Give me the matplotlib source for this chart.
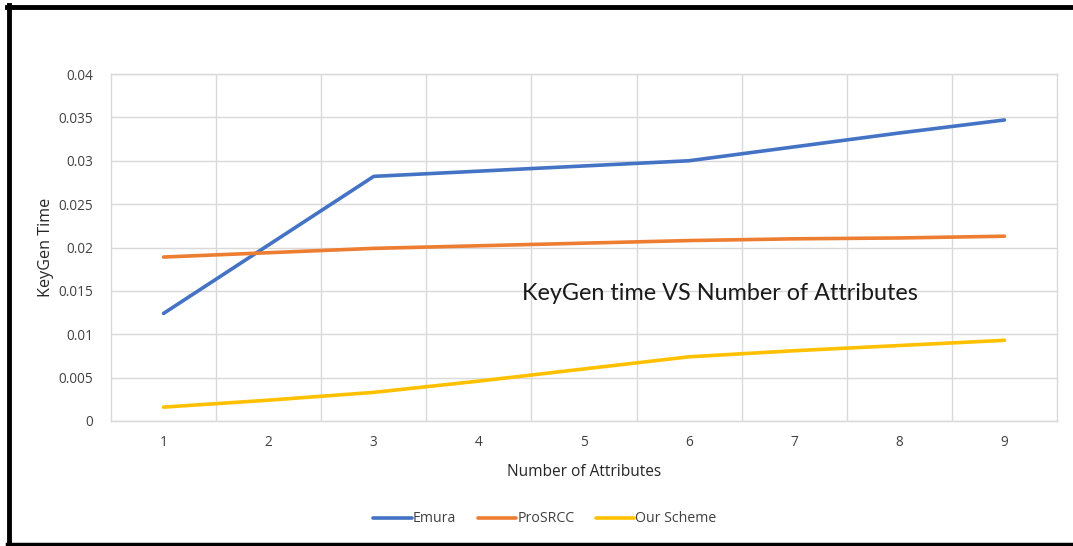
import matplotlib
matplotlib.use("Agg")
import matplotlib.pyplot as plt
from matplotlib.lines import Line2D

categories = [1, 2, 3, 4, 5, 6, 7, 8, 9]
emura = [0.0124, 0.0203, 0.0282, 0.0288, 0.0294, 0.0300, 0.0316, 0.0332, 0.0347]
prosrcc = [0.0189, 0.0194, 0.0199, 0.0202, 0.0205, 0.0208, 0.0210, 0.0211, 0.0213]
our_scheme = [0.0016, 0.0024, 0.0033, 0.0046, 0.0060, 0.0074, 0.0081, 0.0087, 0.0093]
y_ticks = [0, 0.005, 0.01, 0.015, 0.02, 0.025, 0.03, 0.035, 0.04]
y_tick_labels = ["0", "0.005", "0.01", "0.015", "0.02", "0.025", "0.03", "0.035", "0.04"]

W, H = 1073, 546
fig = plt.figure(figsize=(W / 100, H / 100), dpi=100)
plt.rcParams['font.family'] = ['Open Sans', 'DejaVu Sans']

ax = fig.add_axes([111 / W, 1 - 421 / H, (1057 - 111) / W, (421 - 74) / H])

ax.plot(categories, emura, color="#4472C4", lw=2.6, label="Emura", solid_capstyle="round")
ax.plot(categories, prosrcc, color="#ED7D31", lw=2.6, label="ProSRCC", solid_capstyle="round")
ax.plot(categories, our_scheme, color="#FFC000", lw=2.6, label="Our Scheme", solid_capstyle="round")

ax.set_xlim(0.5, 9.5)
ax.set_ylim(0, 0.04)
ax.set_yticks(y_ticks)
ax.set_yticklabels(y_tick_labels)
ax.set_xticks(categories)
ax.set_xticks([c + 0.5 for c in categories[:-1]], minor=True)
ax.grid(False)
ax.yaxis.grid(True, color="#D9D9D9", lw=1)
ax.xaxis.grid(True, which="minor", color="#D9D9D9", lw=1)
ax.set_axisbelow(True)
for s in ax.spines.values():
    s.set_color("#D9D9D9")
    s.set_linewidth(1)
ax.tick_params(axis="both", which="both", length=0, labelsize=9.8, colors="#404040")
ax.tick_params(axis="y", pad=13)
ax.tick_params(axis="x", pad=10)

ax.set_ylabel("KeyGen Time", fontsize=11.6, color="#262626", labelpad=3)
ax.set_xlabel("Number of Attributes", fontsize=11.2, color="#262626", labelpad=10)

fig.text(720 / W, 1 - 293 / H, "KeyGen time VS Number of Attributes",
         fontsize=16.8, family=["Lato", "DejaVu Sans"], color="#1a1a1a",
         ha="center", va="center")

fig.legend(loc="center", bbox_to_anchor=(545 / W, 1 - 519 / H), ncol=3, frameon=False,
           fontsize=10.2, handlelength=2.7, handletextpad=0.1, columnspacing=1.5,
           labelcolor="#404040")

# outer frame
fig.add_artist(Line2D([7 / W, 1.0], [1 - 7 / H, 1 - 7 / H], color="black", lw=3.5,
                      transform=fig.transFigure))
fig.add_artist(Line2D([8.5 / W, 8.5 / W], [1 - 5 / H, 1 - 545 / H], color="black", lw=3.5,
                      transform=fig.transFigure))
fig.add_artist(Line2D([7 / W, 1.0], [1 - 544 / H, 1 - 544 / H], color="black", lw=2.5,
                      transform=fig.transFigure))

fig.savefig("out.png", dpi=100)
